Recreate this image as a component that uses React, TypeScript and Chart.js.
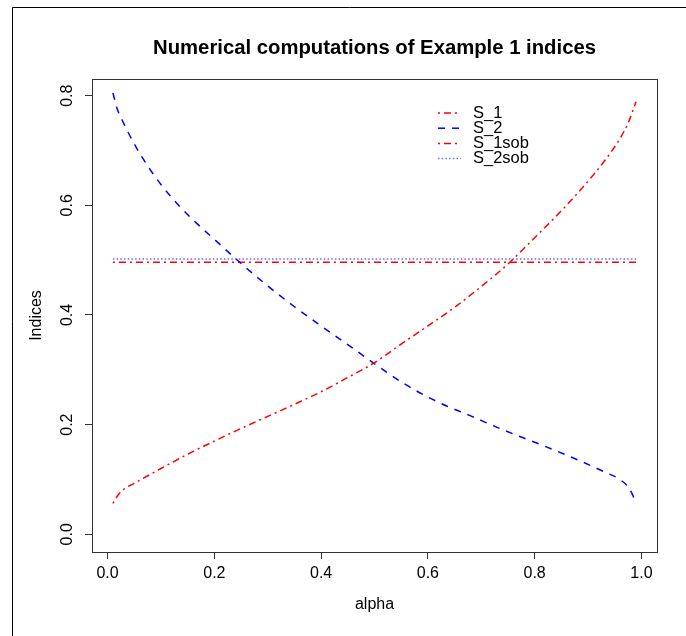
import React, { useEffect, useRef } from "react";
import { Chart, registerables } from "chart.js";

Chart.register(...registerables);

const alphaS1 = [0.01, 0.02, 0.03, 0.05, 0.1, 0.15, 0.2, 0.25, 0.3, 0.35, 0.4, 0.45, 0.5, 0.55, 0.6, 0.65, 0.7, 0.75, 0.8, 0.85, 0.9, 0.93, 0.96, 0.975, 0.99];
const valuesS1 = [0.0565, 0.072, 0.082, 0.093, 0.12, 0.146, 0.17, 0.193, 0.215, 0.237, 0.26, 0.286, 0.313, 0.347, 0.38, 0.414, 0.452, 0.493, 0.541, 0.59, 0.644, 0.68, 0.722, 0.75, 0.789];

const alphaS2 = [0.01, 0.0176, 0.027, 0.05, 0.075, 0.1, 0.133, 0.167, 0.2, 0.25, 0.3, 0.35, 0.4, 0.45, 0.5, 0.555, 0.617, 0.68, 0.742, 0.805, 0.867, 0.93, 0.961, 0.977, 0.99];
const valuesS2 = [0.805, 0.777, 0.756, 0.712, 0.672, 0.638, 0.6, 0.567, 0.538, 0.494, 0.453, 0.415, 0.38, 0.346, 0.311, 0.275, 0.242, 0.216, 0.19, 0.166, 0.1415, 0.114, 0.099, 0.084, 0.058];

const alphaSob = [0.01, 0.99];
const valuesS1sob = [0.496, 0.496];
const valuesS2sob = [0.502, 0.502];

const xTicks = [0, 0.2, 0.4, 0.6, 0.8, 1.0];
const yTicks = [0, 0.2, 0.4, 0.6, 0.8];
const legendLabels = ["S_1", "S_2", "S_1sob", "S_2sob"];

const RED = "#ff0000";
const BLUE = "#0000ff";
const SOBBLUE = "#6a6aff";
const FONT = "'Liberation Sans', Arial, Helvetica, sans-serif";

const styles = [
  { color: RED, dash: [2, 4, 7, 4] },
  { color: BLUE, dash: [7, 7] },
  { color: RED, dash: [2, 4, 7, 4] },
  { color: SOBBLUE, dash: [1.5, 2.2] },
];

const pts = (xs: number[], ys: number[]) => xs.map((x, i) => ({ x, y: ys[i] }));

const overlay = {
  id: "rOverlay",
  afterDraw(chart: any) {
    const ctx = chart.ctx as CanvasRenderingContext2D;
    const ca = chart.chartArea;
    const ys = chart.scales.y;
    const cx = (ca.left + ca.right) / 2;
    const cy = (ca.top + ca.bottom) / 2;
    ctx.save();
    // plot box
    ctx.strokeStyle = "#333";
    ctx.lineWidth = 1;
    ctx.setLineDash([]);
    ctx.strokeRect(Math.round(ca.left) + 0.5, Math.round(ca.top) + 0.5, Math.round(ca.right - ca.left), Math.round(ca.bottom - ca.top));
    // title
    ctx.fillStyle = "#000";
    ctx.textAlign = "center";
    ctx.textBaseline = "middle";
    ctx.font = `bold 20.3px ${FONT}`;
    ctx.fillText("Numerical computations of Example 1 indices", cx, 48);
    // axis titles
    ctx.font = `16px ${FONT}`;
    ctx.fillText("alpha", cx, 605);
    ctx.save();
    ctx.translate(37, cy);
    ctx.rotate(-Math.PI / 2);
    ctx.fillText("Indices", 0, 0);
    ctx.restore();
    // y tick labels rotated
    yTicks.forEach((v) => {
      const py = ys.getPixelForValue(v);
      ctx.save();
      ctx.translate(68, py);
      ctx.rotate(-Math.PI / 2);
      ctx.fillText(v.toFixed(1), 0, 0);
      ctx.restore();
    });
    // legend
    const lx0 = ca.left + 346;
    const lx1 = lx0 + 23;
    const tx = lx0 + 35;
    const ty0 = ca.top + 34;
    const step = 15.2;
    legendLabels.forEach((label, i) => {
      const y = ty0 + i * step;
      ctx.strokeStyle = styles[i].color;
      ctx.lineWidth = 1.5;
      ctx.setLineDash(styles[i].dash);
      ctx.beginPath();
      ctx.moveTo(lx0, y);
      ctx.lineTo(lx1, y);
      ctx.stroke();
      ctx.setLineDash([]);
      ctx.fillStyle = "#000";
      ctx.textAlign = "left";
      ctx.font = `16.5px ${FONT}`;
      ctx.fillText(label, tx, y);
    });
    // outer frame (left & top)
    ctx.strokeStyle = "#000";
    ctx.lineWidth = 1;
    ctx.beginPath();
    ctx.moveTo(12.5, 636);
    ctx.lineTo(12.5, 7.5);
    ctx.lineTo(686, 7.5);
    ctx.stroke();
    ctx.restore();
  },
};

export default function App() {
  const ref = useRef<HTMLCanvasElement | null>(null);
  useEffect(() => {
    if (!ref.current) return;
    const mk = (data: { x: number; y: number }[], i: number, label: string) => ({
      label,
      data,
      showLine: true,
      borderColor: styles[i].color,
      backgroundColor: styles[i].color,
      borderWidth: 1.5,
      borderDash: styles[i].dash,
      pointRadius: 0,
      cubicInterpolationMode: "monotone" as const,
      fill: false,
    });
    const chart = new Chart(ref.current, {
      type: "scatter",
      data: {
        datasets: [
          mk(pts(alphaS1, valuesS1), 0, "S_1"),
          mk(pts(alphaS2, valuesS2), 1, "S_2"),
          mk(pts(alphaSob, valuesS1sob), 2, "S_1sob"),
          mk(pts(alphaSob, valuesS2sob), 3, "S_2sob"),
        ],
      },
      options: {
        animation: false,
        responsive: false,
        devicePixelRatio: 1,
        layout: { padding: { top: 79, right: 29, left: 0, bottom: 0 } },
        plugins: { legend: { display: false }, title: { display: false }, tooltip: { enabled: false } },
        scales: {
          x: {
            type: "linear",
            min: -0.0292,
            max: 1.0292,
            afterBuildTicks: (s: any) => { s.ticks = xTicks.map((v) => ({ value: v })); },
            afterFit: (s: any) => { s.height = 84; },
            border: { display: false },
            grid: { display: true, drawOnChartArea: false, drawTicks: true, tickLength: 7, color: "#333", lineWidth: 1 },
            ticks: { color: "#000", font: { family: FONT, size: 16 }, padding: 5, maxRotation: 0, callback: (v: any) => Number(v).toFixed(1) },
          },
          y: {
            type: "linear",
            min: -0.0323,
            max: 0.8304,
            afterBuildTicks: (s: any) => { s.ticks = yTicks.map((v) => ({ value: v })); },
            afterFit: (s: any) => { s.width = 92; },
            border: { display: false },
            grid: { display: true, drawOnChartArea: false, drawTicks: true, tickLength: 7, color: "#333", lineWidth: 1 },
            ticks: { color: "rgba(0,0,0,0)", font: { family: FONT, size: 16 }, padding: 4 },
          },
        },
      },
      plugins: [overlay],
    });
    return () => chart.destroy();
  }, []);
  return (
    <div style={{ position: "absolute", left: 0, top: 0, width: 686, height: 636, background: "#fff" }}>
      <canvas ref={ref} width={686} height={636} style={{ width: 686, height: 636, display: "block" }} />
    </div>
  );
}
